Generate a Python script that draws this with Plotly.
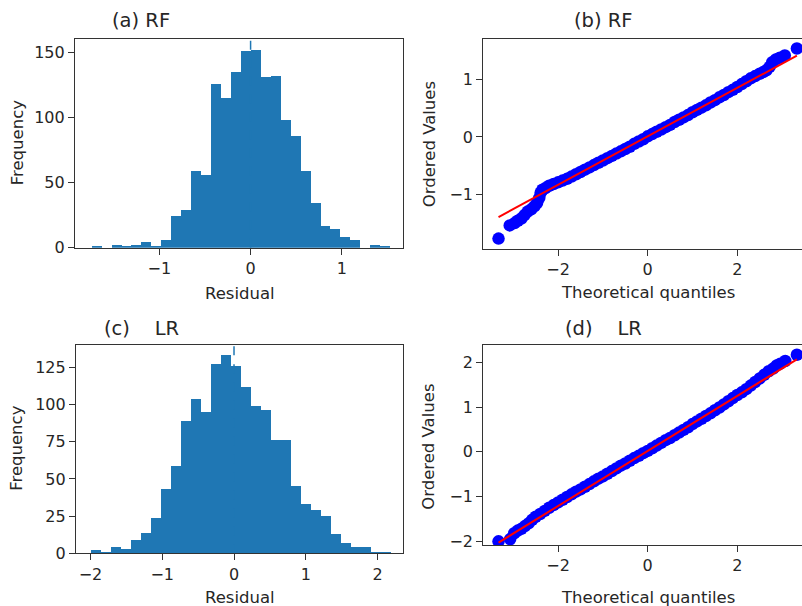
import plotly.graph_objects as go

W, H = 802, 618
SY = 0.982  # vertical display factor observed in this renderer

# ---------------- data ----------------
rf_bin_start = -1.741
rf_bin_width = 0.109
rf_counts = [1, 0, 2, 1, 2, 4, 1, 6, 24, 29, 59, 56, 126, 115, 135, 151, 152, 131,
             132, 98, 86, 59, 34, 17, 14, 8, 6, 0, 2, 1]
rf_mean = 0.0

lr_bin_start = -2.0
lr_bin_width = 0.1394
lr_counts = [2, 1, 4, 3, 9, 14, 24, 43, 59, 89, 104, 95, 127, 133, 126, 112, 99, 96,
             76, 76, 45, 33, 29, 25, 13, 7, 4, 4, 1, 1]
lr_mean = 0.0

rf_theoretical = [-3.33, -3.08, -2.97, -2.90, -2.82, -2.75, -2.68, -2.60, -2.53, -2.47,
                  -2.42, -2.39, -2.35, -2.28, -2.20, -2.10, -2.00, -1.90, -1.80, -1.70,
                  -1.60, -1.50, -1.40, -1.30, -1.20, -1.10, -1.00, -0.90, -0.80, -0.70,
                  -0.60, -0.50, -0.40, -0.30, -0.20, -0.10, 0.00, 0.10, 0.20, 0.30,
                  0.40, 0.50, 0.60, 0.70, 0.80, 0.90, 1.00, 1.10, 1.20, 1.30,
                  1.40, 1.50, 1.60, 1.70, 1.80, 1.90, 2.00, 2.10, 2.20, 2.30,
                  2.40, 2.50, 2.58, 2.65, 2.72, 2.78, 2.86, 2.95, 3.06, 3.33]
rf_ordered = [-1.77, -1.54, -1.50, -1.46, -1.42, -1.36, -1.30, -1.26, -1.21, -1.15,
              -1.06, -0.97, -0.92, -0.89, -0.85, -0.82, -0.79, -0.76, -0.73, -0.69,
              -0.65, -0.61, -0.57, -0.53, -0.49, -0.45, -0.41, -0.37, -0.33, -0.29,
              -0.25, -0.21, -0.17, -0.12, -0.08, -0.04, 0.01, 0.05, 0.09, 0.13,
              0.17, 0.21, 0.26, 0.30, 0.34, 0.38, 0.43, 0.47, 0.51, 0.55,
              0.60, 0.64, 0.69, 0.73, 0.78, 0.82, 0.87, 0.92, 0.97, 1.02,
              1.06, 1.10, 1.13, 1.16, 1.22, 1.30, 1.35, 1.38, 1.42, 1.54]
rf_fit_slope = 0.422
rf_fit_intercept = 0.01

lr_theoretical = [-3.33, -3.07, -2.98, -2.90, -2.82, -2.74, -2.66, -2.58, -2.50, -2.40,
                  -2.30, -2.20, -2.10, -2.00, -1.90, -1.80, -1.70, -1.60, -1.50, -1.40,
                  -1.30, -1.20, -1.10, -1.00, -0.90, -0.80, -0.70, -0.60, -0.50, -0.40,
                  -0.30, -0.20, -0.10, 0.00, 0.10, 0.20, 0.30, 0.40, 0.50, 0.60,
                  0.70, 0.80, 0.90, 1.00, 1.10, 1.20, 1.30, 1.40, 1.50, 1.60,
                  1.70, 1.80, 1.90, 2.00, 2.10, 2.20, 2.30, 2.40, 2.50, 2.60,
                  2.70, 2.80, 2.88, 2.96, 3.07, 3.33]
lr_ordered = [-2.00, -1.95, -1.82, -1.76, -1.72, -1.66, -1.60, -1.52, -1.45, -1.39,
              -1.32, -1.25, -1.19, -1.13, -1.07, -1.01, -0.95, -0.89, -0.84, -0.78,
              -0.72, -0.66, -0.60, -0.55, -0.49, -0.43, -0.37, -0.31, -0.26, -0.20,
              -0.14, -0.09, -0.03, 0.02, 0.08, 0.14, 0.20, 0.26, 0.31, 0.37,
              0.43, 0.49, 0.55, 0.62, 0.68, 0.74, 0.80, 0.86, 0.93, 0.99,
              1.06, 1.13, 1.20, 1.27, 1.33, 1.40, 1.48, 1.56, 1.64, 1.72,
              1.80, 1.86, 1.93, 1.97, 2.03, 2.17]
lr_fit_slope = 0.615
lr_fit_intercept = 0.02

titles = ["(a) RF", "(b) RF", "(c)\u00a0\u00a0\u00a0 LR", "(d)\u00a0\u00a0\u00a0 LR"]

# ---------------- styling ----------------
FONT = "DejaVu Sans"
TXT = "#262626"
AX = "#333333"
BAR = "#1f77b4"
TICK_SIZE = 16
LABEL_SIZE = 16.5
TITLE_SIZE = 19.5


def fx(p):
    return p / W


def fy(p):
    return 1 - (p / SY) / H


fig = go.Figure()


def hist(counts, start, width, mean, xa, ya, ymax):
    centers = [start + (i + 0.5) * width for i in range(len(counts))]
    fig.add_trace(go.Bar(x=centers, y=counts, width=width, marker=dict(color=BAR, line=dict(width=0)),
                         xaxis=xa, yaxis=ya, showlegend=False))
    fig.add_trace(go.Scatter(x=[mean, mean], y=[0, ymax], mode="lines",
                             line=dict(color=BAR, width=1.5, dash="dash"),
                             xaxis=xa, yaxis=ya, showlegend=False))


def qq(tq, ov, slope, intercept, xa, ya):
    fig.add_trace(go.Scatter(x=tq, y=ov, mode="markers",
                             marker=dict(color="#0000ff", size=12.5, line=dict(width=0)),
                             xaxis=xa, yaxis=ya, showlegend=False))
    x0, x1 = min(tq), max(tq)
    fig.add_trace(go.Scatter(x=[x0, x1], y=[slope * x0 + intercept, slope * x1 + intercept],
                             mode="lines", line=dict(color="#ff0000", width=2),
                             xaxis=xa, yaxis=ya, showlegend=False))


hist(rf_counts, rf_bin_start, rf_bin_width, rf_mean, "x", "y", 160.5)
qq(rf_theoretical, rf_ordered, rf_fit_slope, rf_fit_intercept, "x2", "y2")
hist(lr_counts, lr_bin_start, lr_bin_width, lr_mean, "x3", "y3", 140)
qq(lr_theoretical, lr_ordered, lr_fit_slope, lr_fit_intercept, "x4", "y4")


def axstyle(**kw):
    d = dict(showline=True, linecolor=AX, linewidth=1.2, ticks="outside", ticklen=6, tickwidth=1.2,
             tickcolor=AX, showgrid=False, zeroline=False,
             tickfont=dict(family=FONT, size=TICK_SIZE, color=TXT))
    d.update(kw)
    return d


def lab(vals):
    return [("\u2212" + str(abs(v))) if v < 0 else str(v) for v in vals]


fig.update_layout(
    width=W, height=H, margin=dict(l=0, r=0, t=0, b=0),
    paper_bgcolor="white", plot_bgcolor="white", bargap=0,
    xaxis=axstyle(domain=[fx(75), fx(403)], range=[-1.924, 1.67], anchor="y", mirror=True,
                  tickvals=[-1, 0, 1], ticktext=lab([-1, 0, 1])),
    yaxis=axstyle(domain=[fy(247.3), fy(39)], range=[0, 160.5], anchor="x", mirror=True,
                  tickvals=[0, 50, 100, 150], ticktext=lab([0, 50, 100, 150])),
    xaxis2=axstyle(domain=[fx(483.3), 1], range=[-3.67, 3.444], anchor="y2", mirror=True,
                   tickvals=[-2, 0, 2], ticktext=lab([-2, 0, 2])),
    yaxis2=axstyle(domain=[fy(248.3), fy(39.3)], range=[-1.947, 1.699], anchor="x2", mirror=False,
                   tickvals=[-1, 0, 1], ticktext=lab([-1, 0, 1])),
    xaxis3=axstyle(domain=[fx(76), fx(403)], range=[-2.202, 2.355], anchor="y3", mirror=True,
                   tickvals=[-2, -1, 0, 1, 2], ticktext=lab([-2, -1, 0, 1, 2])),
    yaxis3=axstyle(domain=[fy(552.3), fy(344.3)], range=[0, 140], anchor="x3", mirror=True,
                   tickvals=[0, 25, 50, 75, 100, 125], ticktext=lab([0, 25, 50, 75, 100, 125])),
    xaxis4=axstyle(domain=[fx(483.3), 1], range=[-3.67, 3.444], anchor="y4", mirror=True,
                   tickvals=[-2, 0, 2], ticktext=lab([-2, 0, 2])),
    yaxis4=axstyle(domain=[fy(544), fy(344)], range=[-2.082, 2.395], anchor="x4", mirror=False,
                   tickvals=[-2, -1, 0, 1, 2], ticktext=lab([-2, -1, 0, 1, 2])),
)

annots = []


def text(t, x, y, size, angle=0, xanchor="center"):
    annots.append(dict(text=t, x=fx(x), y=fy(y), xref="paper", yref="paper", showarrow=False,
                       xanchor=xanchor, yanchor="middle", textangle=angle,
                       font=dict(family=FONT, size=size, color=TXT)))


text(titles[0], 110, 20, TITLE_SIZE, xanchor="left")
text(titles[1], 572, 20, TITLE_SIZE, xanchor="left")
text(titles[2], 102, 328, TITLE_SIZE, xanchor="left")
text(titles[3], 563, 328, TITLE_SIZE, xanchor="left")
text("Frequency", 17, 143, LABEL_SIZE, angle=-90)
text("Frequency", 17, 448, LABEL_SIZE, angle=-90)
text("Residual", 240, 293, LABEL_SIZE)
text("Residual", 240, 596, LABEL_SIZE)
text("Ordered Values", 429, 144, LABEL_SIZE, angle=-90)
text("Ordered Values", 429, 446, LABEL_SIZE, angle=-90)
text("Theoretical quantiles", 648, 292, LABEL_SIZE)
text("Theoretical quantiles", 648, 596, LABEL_SIZE)

fig.update_layout(annotations=annots)
fig.write_html("out.html", config={"displayModeBar": False},
               post_script="document.body.style.margin='0';document.body.style.padding='0';")
